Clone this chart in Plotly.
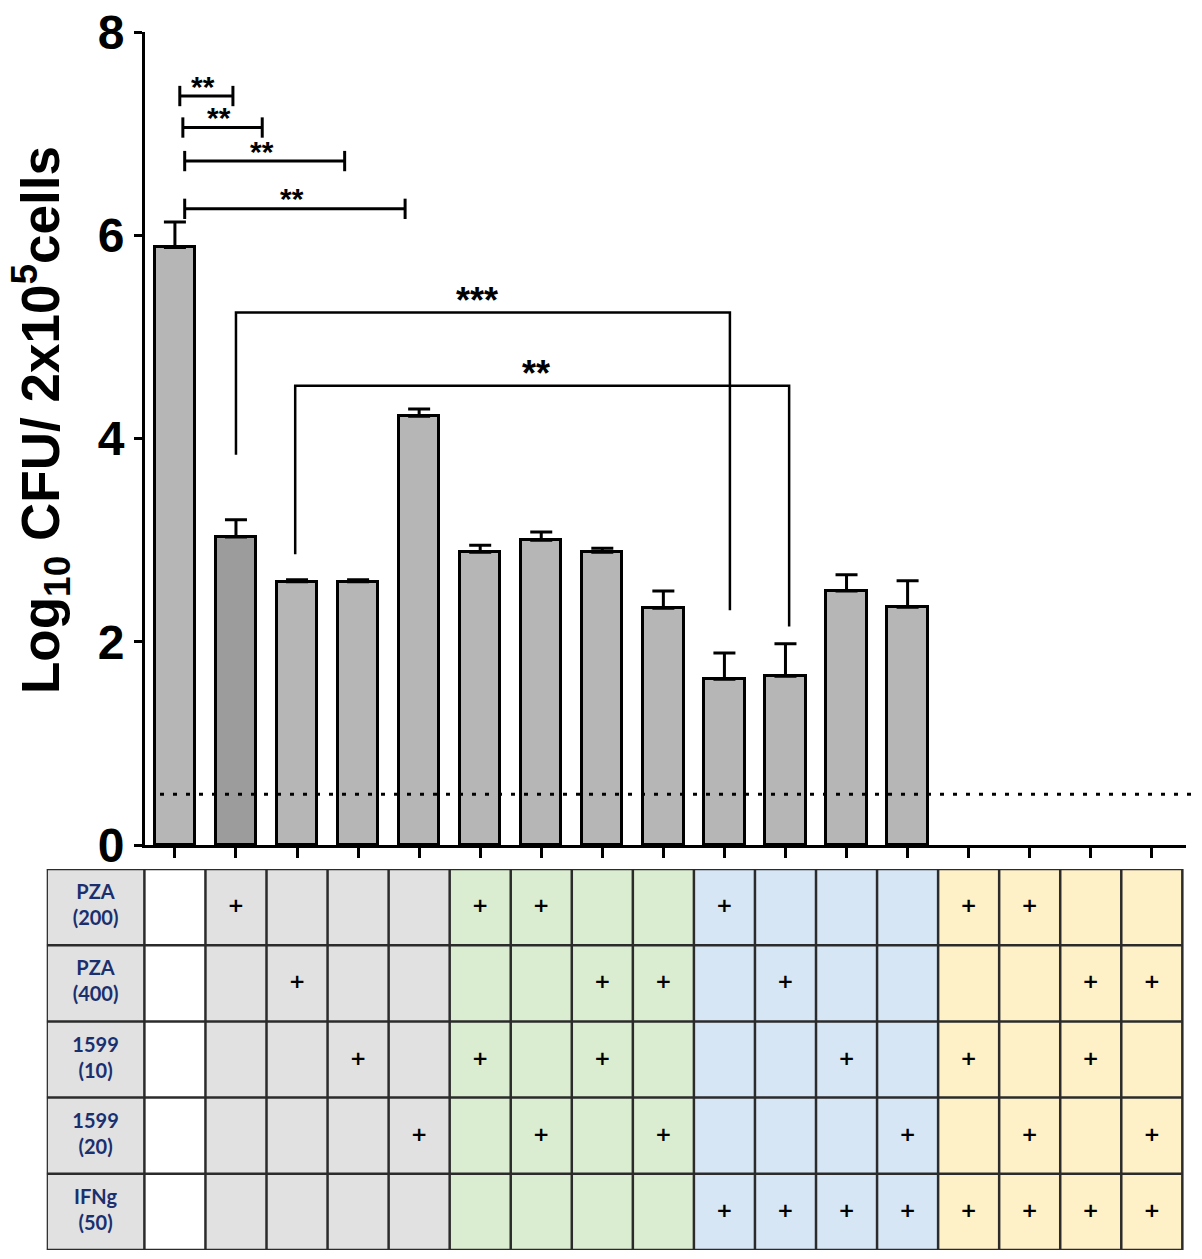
import plotly.graph_objects as go

# bar data (log10 CFU per 2x10^5 cells), 17 conditions, last 4 have no bars
positions = list(range(17))
means = [5.88, 3.03, 2.59, 2.59, 4.22, 2.88, 3.00, 2.88, 2.33, 1.63, 1.66, 2.50, 2.34]
sem = [0.25, 0.17, 0.02, 0.02, 0.07, 0.07, 0.08, 0.04, 0.17, 0.26, 0.32, 0.16, 0.26]
detection_limit = 0.5

# treatment table
row_labels = ["PZA<br>(200)", "PZA<br>(400)", "1599<br>(10)", "1599<br>(20)", "IFNg<br>(50)"]
pza200 = [0, 1, 0, 0, 0, 1, 1, 0, 0, 1, 0, 0, 0, 1, 1, 0, 0]
pza400 = [0, 0, 1, 0, 0, 0, 0, 1, 1, 0, 1, 0, 0, 0, 0, 1, 1]
c1599_10 = [0, 0, 0, 1, 0, 1, 0, 1, 0, 0, 0, 1, 0, 1, 0, 1, 0]
c1599_20 = [0, 0, 0, 0, 1, 0, 1, 0, 1, 0, 0, 0, 1, 0, 1, 0, 1]
ifng50 = [0, 0, 0, 0, 0, 0, 0, 0, 0, 1, 1, 1, 1, 1, 1, 1, 1]
# colour group of each column: 0 grey, 1 white, 2 green, 3 blue, 4 yellow
col_group = [1, 0, 0, 0, 0, 2, 2, 2, 2, 3, 3, 3, 3, 4, 4, 4, 4]

# significance brackets: (x0, x1, y, text)
top_brackets = [(0.08, 0.95, 7.37, "**"), (0.13, 1.43, 7.06, "**"),
                (0.16, 2.78, 6.73, "**"), (0.16, 3.77, 6.26, "**")]
# (x_left, y_left_end, x_right, y_right_end, y_bar, text)
long_brackets = [(1.0, 3.84, 9.09, 2.31, 5.24, "***"),
                 (1.97, 2.86, 10.06, 2.15, 4.52, "**")]

W, H = 1202, 1259
OFF = 8  # page margin around the plot div
px = lambda v: (v - OFF) / W
py = lambda v: 1 - (v - OFF) / H

fig = go.Figure()

bar_colors = ["#b6b6b6"] * len(means)
bar_colors[1] = "#9c9c9c"
fig.add_trace(go.Bar(
    x=positions[:len(means)], y=means, width=0.66,
    marker=dict(color=bar_colors, line=dict(color="black", width=3)),
    error_y=dict(type="data", symmetric=False, array=sem,
                 arrayminus=[0] * len(sem), thickness=3, width=11, color="black"),
    showlegend=False,
))

# table fills
label_start = -2.1
edges = [label_start] + [p - 0.5 for p in positions] + [positions[-1] + 0.5]
z_row = [0] + col_group
fig.add_trace(go.Heatmap(
    x=edges, y=[-0.5, 0.5, 1.5, 2.5, 3.5, 4.5], z=[z_row] * 5,
    xaxis="x2", yaxis="y2", zmin=0, zmax=4, showscale=False, hoverinfo="skip",
    colorscale=[[0.0, "#e1e1e1"], [0.2, "#e1e1e1"], [0.2, "#ffffff"], [0.4, "#ffffff"],
                [0.4, "#dbedd0"], [0.6, "#dbedd0"], [0.6, "#d6e6f5"], [0.8, "#d6e6f5"],
                [0.8, "#fff1c7"], [1.0, "#fff1c7"]],
))

# table grid
gx, gy = [], []
for e in edges:
    gx += [e, e, None]
    gy += [-0.5, 4.5, None]
for r in range(6):
    gx += [edges[0], edges[-1], None]
    gy += [r - 0.5, r - 0.5, None]
fig.add_trace(go.Scatter(x=gx, y=gy, mode="lines", xaxis="x2", yaxis="y2",
                         line=dict(color="#2b2b2b", width=2.5), showlegend=False,
                         hoverinfo="skip"))

# plus marks
plus_x, plus_y = [], []
for r, row in enumerate([pza200, pza400, c1599_10, c1599_20, ifng50]):
    for c, v in enumerate(row):
        if v:
            plus_x.append(positions[c])
            plus_y.append(r)
fig.add_trace(go.Scatter(x=plus_x, y=plus_y, mode="text", text=["+"] * len(plus_x),
                         xaxis="x2", yaxis="y2", showlegend=False,
                         textfont=dict(family="DejaVu Sans", size=20, color="black",
                                       weight="bold")))
fig.add_trace(go.Scatter(x=[(label_start - 0.5) / 2] * 5, y=list(range(5)), mode="text",
                         text=row_labels, xaxis="x2", yaxis="y2", showlegend=False,
                         textfont=dict(family="Lato", size=20, color="#1a2f6e",
                                       weight="bold")))

shapes = []
for x0, x1, y, t in top_brackets:
    shapes.append(dict(type="line", x0=x0, x1=x1, y0=y, y1=y, line=dict(width=3)))
    for xe in (x0, x1):
        shapes.append(dict(type="line", x0=xe, x1=xe, y0=y - 0.1, y1=y + 0.1,
                           line=dict(width=3)))
    fig.add_annotation(x=(x0 + x1) / 2 - 0.05, y=y, text=t, showarrow=False, yshift=10,
                       font=dict(family="Liberation Sans", size=30, weight="bold",
                                 color="black"))
for xl, yl, xr, yr, yb, t in long_brackets:
    shapes.append(dict(type="path", path=f"M {xl},{yl} L {xl},{yb} L {xr},{yb} L {xr},{yr}",
                       line=dict(width=2.5)))
    fig.add_annotation(x=(xl + xr) / 2 - 0.1, y=yb, text=t, showarrow=False, yshift=12,
                       font=dict(family="Liberation Sans", size=36, weight="bold",
                                 color="black"))
for s in shapes:
    s["xref"], s["yref"] = "x", "y"
    s["line"]["color"] = "black"

shapes.append(dict(type="line", xref="paper", yref="y", x0=px(160), x1=px(1197),
                   y0=detection_limit, y1=detection_limit,
                   line=dict(color="black", width=3, dash="4px,9px")))

fig.add_annotation(xref="paper", yref="paper", x=px(40), y=py(420), textangle=-90,
                   xanchor="center", yanchor="middle",
                   text="Log<sub>10</sub> CFU/ 2x10<sup>5</sup>cells", showarrow=False,
                   font=dict(family="Liberation Sans", size=53, weight="bold", color="black"))

fig.update_layout(
    template="none",
    width=W, height=H, margin=dict(l=0, r=0, t=0, b=0, autoexpand=False),
    font=dict(color="black"),
    paper_bgcolor="white", plot_bgcolor="white", shapes=shapes, bargap=0,
    xaxis=dict(domain=[px(145), px(1186)], range=[-0.49, 16.56], tickvals=positions,
               showticklabels=False, ticks="outside", ticklen=10, tickwidth=3,
               tickcolor="black", showline=True, linewidth=3, linecolor="black",
               showgrid=False, zeroline=False, automargin=False),
    yaxis=dict(domain=[py(845), py(32)], range=[0, 8], tickvals=[0, 2, 4, 6, 8],
               ticks="outside", ticklen=8, tickwidth=3, tickcolor="black",
               showline=True, linewidth=3, linecolor="black", showgrid=False,
               zeroline=False, automargin=False, ticklabeloverflow="allow",
               tickfont=dict(family="Liberation Sans", size=48, weight="bold",
                             color="black")),
    xaxis2=dict(domain=[px(145 - (-0.49 - label_start) * 61.05), px(1186)],
                range=[label_start, 16.56], anchor="y2", visible=False,
                automargin=False),
    yaxis2=dict(domain=[py(1250), py(869)], range=[4.5, -0.5], anchor="x2",
                visible=False, automargin=False),
)

fig.write_html("out.html")
